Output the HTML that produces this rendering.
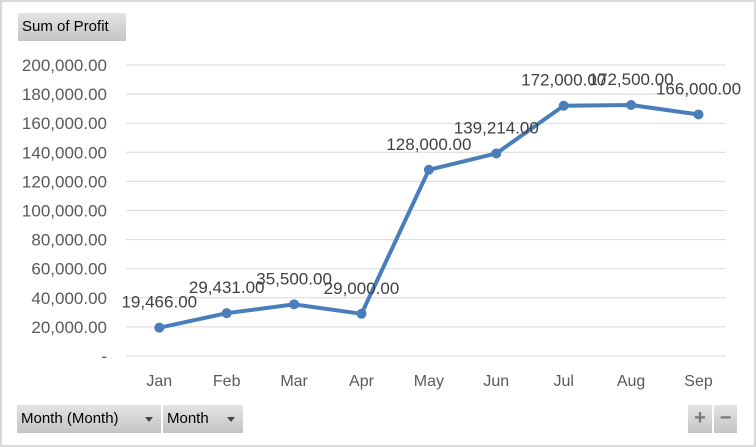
<!DOCTYPE html>
<html><head><meta charset="utf-8">
<style>
body{margin:0;width:756px;height:447px;overflow:hidden;background:#fff;font-family:"Liberation Sans",sans-serif}
.frame{position:absolute;left:0;top:0;width:752px;height:443px;border:2px solid #d9d9d9}
.btn{position:absolute;background:linear-gradient(#e4e4e4,#c4c4c4);font-size:15px;color:#000;box-sizing:border-box;line-height:27px;padding-left:4px}
.arr{position:absolute;right:8px;top:12px;width:0;height:0;border-left:4px solid transparent;border-right:4px solid transparent;border-top:5px solid #444}
</style></head><body>
<div class="frame"></div>
<div class="btn" style="left:18px;top:13px;width:108px;height:28px">Sum of Profit</div>
<div class="btn" style="left:17px;top:405px;width:144px;height:28px">Month (Month)<span class="arr"></span></div>
<div class="btn" style="left:163px;top:405px;width:80px;height:28px">Month<span class="arr"></span></div>
<div class="btn" style="left:688px;top:405px;width:24px;height:28px;padding:0;text-align:center;color:#777;font-size:20px;font-weight:bold">+</div>
<div class="btn" style="left:714px;top:405px;width:23px;height:28px;padding:0;text-align:center;color:#777;font-size:20px;font-weight:bold">−</div>
<svg id="chart" width="756" height="447" style="position:absolute;left:0;top:0"></svg>
<script>
const categories=["Jan","Feb","Mar","Apr","May","Jun","Jul","Aug","Sep"];
const profit=[19466,29431,35500,29000,128000,139214,172000,172500,166000];
const yTicks=[0,20000,40000,60000,80000,100000,120000,140000,160000,180000,200000];
const NS="http://www.w3.org/2000/svg";
const svg=document.getElementById('chart');
const x0=125.6,bw=67.4,yTop=65,yBot=356,yMax=200000;
const xs=i=>x0+bw*(i+0.5);
const ys=v=>yBot-(v/yMax)*(yBot-yTop);
const fmt=v=>v.toLocaleString('en-US',{minimumFractionDigits:2,maximumFractionDigits:2});
function mk(t,a,txt){const e=document.createElementNS(NS,t);for(const k in a)e.setAttribute(k,a[k]);if(txt!=null)e.textContent=txt;svg.appendChild(e);return e;}
yTicks.forEach(v=>{
  const g=mk('line',{x1:126,x2:726,y1:ys(v),y2:ys(v),stroke:'#d9d9d9','stroke-width':1});
  
  
  const t=mk('text',{x:107,y:ys(v)+6,'text-anchor':'end','font-size':17,fill:'#595959','font-family':'Liberation Sans, sans-serif'},v===0?'-':fmt(v));
  
  
});
categories.forEach((c,i)=>{
  const t=mk('text',{x:xs(i),y:386,'text-anchor':'middle','font-size':16,fill:'#595959','font-family':'Liberation Sans, sans-serif'},c);
  
  
});
const pl=mk('polyline',{points:profit.map((v,i)=>xs(i)+','+ys(v)).join(' '),fill:'none',stroke:'#4a7ebb','stroke-width':4,'stroke-linejoin':'round'});


profit.forEach((v,i)=>{
  const c=mk('circle',{cx:xs(i),cy:ys(v),r:5,fill:'#4a7ebb'});
  
  
  const t=mk('text',{x:xs(i),y:ys(v)-20,'text-anchor':'middle','font-size':17,fill:'#404040','font-family':'Liberation Sans, sans-serif'},fmt(v));
  
  
});
</script>
</body></html>
